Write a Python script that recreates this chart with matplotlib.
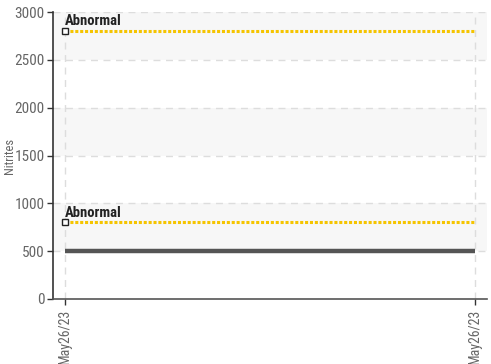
import matplotlib.pyplot as plt
from matplotlib import font_manager

# ---------- data ----------
dates = ["May26/23", "May26/23"]
nitrites = [500, 500]
abnormal_levels = [2800, 800]
abnormal_label = "Abnormal"
y_ticks = [0, 500, 1000, 1500, 2000, 2500, 3000]
# --------------------------

fonts = font_manager.fontManager.ttflist
names = {f.name for f in fonts}
narrow = None
for cand in ["Roboto Condensed", "Liberation Sans Narrow", "Open Sans Condensed"]:
    if cand in names:
        narrow = cand
        break
condensed_dejavu = any(f.name == "DejaVu Sans" and f.stretch in ("condensed", 300, "semi-condensed")
                       for f in fonts)
if narrow:
    plt.rcParams["font.family"] = [narrow, "DejaVu Sans"]
    shrink = 1.0
elif condensed_dejavu:
    plt.rcParams["font.family"] = ["DejaVu Sans"]
    plt.rcParams["font.stretch"] = "condensed"
    shrink = 0.95
else:
    plt.rcParams["font.family"] = ["DejaVu Sans"]
    shrink = 0.82

W, H = 491, 364
fig = plt.figure(figsize=(W / 100, H / 100), dpi=100)
ax = fig.add_axes([53 / W, 1 - 299 / H, (487 - 53) / W, (299 - 12) / H])

x = list(range(len(dates)))
pad = 12 / 410
ax.set_xlim(x[0] - pad, x[-1] + pad)
ax.set_ylim(y_ticks[0], y_ticks[-1])

# alternating bands
for i in range(len(y_ticks) - 1):
    if i % 2 == 1:
        ax.axhspan(y_ticks[i], y_ticks[i + 1], color="#f7f7f7", zorder=0, lw=0)

# grid
for yv in y_ticks[1:]:
    ax.axhline(yv, color="#dddddd", lw=1, ls=(0, (5, 4)), zorder=1)
for xv in x:
    ax.axvline(xv, color="#dddddd", lw=1, ls=(0, (5, 4)), zorder=1)

# threshold lines
for lvl in abnormal_levels:
    ax.plot([x[0], x[-1]], [lvl, lvl], color="#f5c400", lw=2.2, ls=(0, (1, 0.6)), zorder=3)
    ax.plot([x[0]], [lvl], marker="s", ms=4.5, mfc="white", mec="#222222", mew=1, zorder=5,
            clip_on=False)
    ax.annotate(abnormal_label, (x[0], lvl), xytext=(0, 2), textcoords="offset points",
                fontsize=10.5 * shrink, color="#222222", fontweight="bold",
                ha="left", va="bottom", zorder=6)

# data series
ax.plot(x, nitrites, color="#555555", lw=3.2, solid_capstyle="butt", zorder=4)

ax.set_xticks(x)
ax.set_xticklabels(dates, rotation=90, fontsize=10 * shrink, color="#666666")
ax.set_yticks(y_ticks)
ax.set_yticklabels([str(v) for v in y_ticks], fontsize=11 * shrink, color="#666666")
ax.set_ylabel("Nitrites", fontsize=9 * shrink, color="#666666")
ax.yaxis.set_label_coords(-37 / 434, 0.5)

for s in ["top", "right"]:
    ax.spines[s].set_visible(False)
ax.spines["left"].set_color("#333333")
ax.spines["left"].set_linewidth(1.2)
ax.spines["bottom"].set_color("#555555")
ax.spines["bottom"].set_linewidth(1.2)
ax.tick_params(axis="y", length=4, width=1, color="#333333", pad=2)
ax.tick_params(axis="x", length=4, width=1, color="#333333", pad=3)

fig.savefig("out.png", dpi=100)
